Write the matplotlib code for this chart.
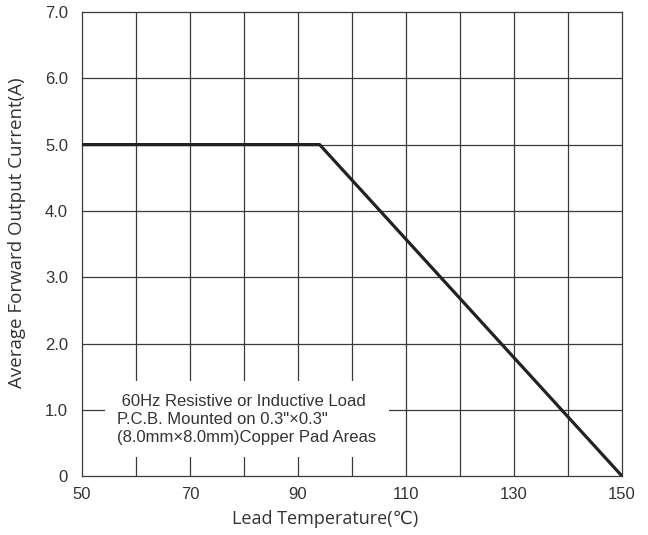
import matplotlib
matplotlib.use("Agg")
import matplotlib.pyplot as plt
import numpy as np

# derating curve
temp = [50, 94, 150]
current = [5.0, 5.0, 0.0]

xticks = [50, 70, 90, 110, 130, 150]
yticks = [0, 1, 2, 3, 4, 5, 6, 7]
ylabels = ["0", "1.0", "2.0", "3.0", "4.0", "5.0", "6.0", "7.0"]

note = (" 60Hz Resistive or Inductive Load\n"
        "P.C.B. Mounted on 0.3\"\u00d70.3\"\n"
        "(8.0mm\u00d78.0mm)Copper Pad Areas")

fig = plt.figure(figsize=(6.48, 5.35), dpi=100)
ax = fig.add_axes([0.1265, 0.110, 0.8335, 0.8676])

# grid every 10 degC / 1 A
for x in np.arange(60, 150, 10):
    ax.axvline(x, color="#3a3a3a", lw=0.9, zorder=1)
for y in range(1, 7):
    ax.axhline(y, color="#3a3a3a", lw=0.9, zorder=1)

ax.plot(temp, current, color="#222222", lw=2.3, zorder=3, solid_capstyle="butt")

ax.text(56.5, 0.86, note, fontsize=12, family=["Liberation Sans", "DejaVu Sans"],
        color="#333333", ha="left", va="center", multialignment="left",
        linespacing=1.25, zorder=2,
        bbox=dict(facecolor="white", edgecolor="none", pad=9))

ax.set_xlim(50, 150)
ax.set_ylim(0, 7)
ax.set_xticks(xticks)
ax.set_yticks(yticks)
ax.set_yticklabels(ylabels)
ax.tick_params(length=0, labelsize=12, colors="#333333")
ax.tick_params(axis="y", pad=10)
ax.tick_params(axis="x", pad=8)
for lab in ax.get_xticklabels() + ax.get_yticklabels():
    lab.set_family(["Liberation Sans", "DejaVu Sans"])

for s in ax.spines.values():
    s.set_color("#3a3a3a")
    s.set_linewidth(0.9)

ax.set_xlabel("Lead Temperature(\u2103)", fontsize=13, family=["Open Sans", "DejaVu Sans"],
              color="#333333")
ax.set_ylabel("Average Forward Output Current(A)", fontsize=13.5,
              family=["Open Sans", "DejaVu Sans"], color="#333333")
ax.xaxis.set_label_coords(0.45, -0.072)
ax.yaxis.set_label_coords(-0.104, 0.524)

fig.savefig("out.png", dpi=100)
